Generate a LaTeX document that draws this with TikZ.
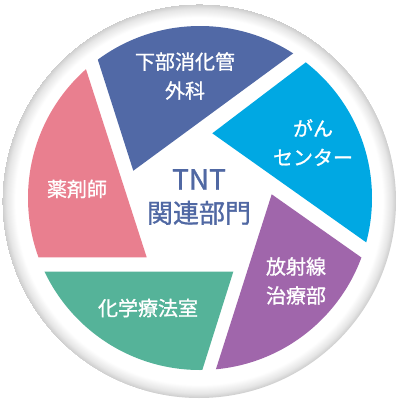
\documentclass[tikz,border=0pt]{standalone}
\usepackage{fontspec}
\setmainfont{Noto Sans CJK JP}
\newfontfamily\jpfont[FakeBold=1]{Noto Sans CJK JP}
\newfontfamily\jpfontc[FakeBold=1.2]{Noto Sans CJK JP}
\usetikzlibrary{calc}
\definecolor{cpink}{HTML}{E97F8F}
\definecolor{cnavy}{HTML}{5169A6}
\definecolor{ccyan}{HTML}{00A8E3}
\definecolor{cpurple}{HTML}{A066AB}
\definecolor{cgreen}{HTML}{55B399}
\definecolor{ctext}{HTML}{5068A3}
\pgfdeclareradialshading{ringshade}{\pgfpoint{0bp}{0bp}}{color(0bp)=(white); color(23.3bp)=(white); color(24.4bp)=(black!10); color(25bp)=(black!20)}
\begin{document}
\begin{tikzpicture}[x=1pt,y=-1pt,
  lbl/.style={text=white,align=center,font=\jpfont\fontsize{20}{29}\selectfont,inner sep=0pt},
  ctr/.style={text=ctext,align=center,font=\jpfontc\fontsize{26}{33}\selectfont,inner sep=0pt}]
\useasboundingbox (0,0) rectangle (398,405);
\fill[white] (0,0) rectangle (398,405);
% outer disc with soft rim
\shade[shading=ringshade] (199,201) circle[radius=197pt];
\coordinate (C) at (200,198);
\begin{scope}
\clip (C) circle[radius=172pt];
% pink
\coordinate (pv) at (146.7,257.3);
\coordinate (pa) at (86,69.3);
\fill[cpink] (pv) -- ($(pv)!2!(pa)$) -- (-100,-118.7) -- (-100,257.3) -- cycle;
% navy
\coordinate (bv) at (133.3,170.7);
\coordinate (ba) at (97.7,59.3);
\coordinate (bb) at (293.3,53.3);
\fill[cnavy] (bv) -- ($(bv)!1.5!(ba)$) -- (79.9,-40) -- (373.3,-40) -- ($(bv)!1.5!(bb)$) -- cycle;
% cyan
\coordinate (cv) at (212.3,133.3);
\coordinate (ca) at (305.3,62.7);
\coordinate (cb) at (366.7,242.7);
\fill[ccyan] (cv) -- ($(cv)!2!(ca)$) -- (520,-8) -- ($(cv)!2!(cb)$) -- cycle;
% purple
\coordinate (uv) at (271.7,194.3);
\coordinate (ua) at (361.7,257.7);
\coordinate (ub) at (216,369);
\fill[cpurple] (uv) -- ($(uv)!2!(ua)$) -- (452,544) -- ($(uv)!2!(ub)$) -- cycle;
% green
\coordinate (gv) at (233.3,271.7);
\coordinate (gb) at (202.3,370);
\fill[cgreen] (gv) -- (-100,271.7) -- (-100,470) -- ($(gv)!2!(gb)$) -- cycle;
\end{scope}
\node[lbl] (navy) at (185,76) {下部消化管\\外科};
\node[lbl] (cyan) at (313,142.5) {がん\\センター};
\node[lbl] (pink) at (77,189) {薬剤師};
\node[lbl] (purple) at (296,281) {放射線\\治療部};
\node[lbl] (green) at (148,308) {化学療法室};
\node[ctr] (center) at (199,197) {{\fontsize{28}{33}\selectfont TNT}\\関連部門};
\end{tikzpicture}
\end{document}
